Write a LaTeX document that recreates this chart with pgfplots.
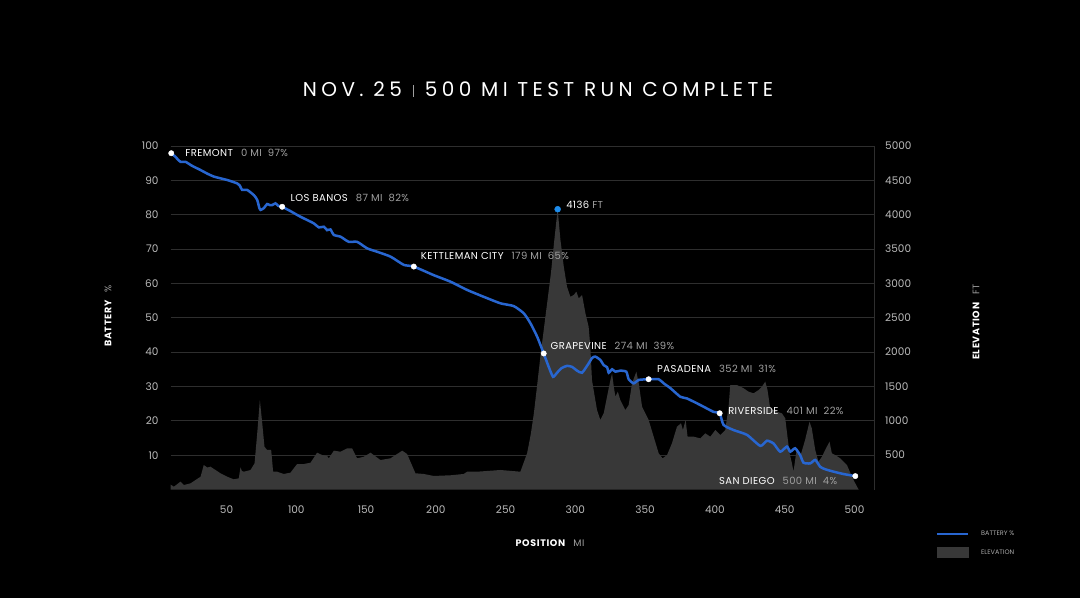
\documentclass[border=0pt]{standalone}
\usepackage{pgfplots}
\pgfplotsset{compat=1.18}
\usepackage{fontspec}
\setmainfont{Poppins}
\newfontfamily\titlefont[LetterSpace=22]{Poppins}
\newfontfamily\lblfont[LetterSpace=4]{Poppins}
\newfontfamily\axfont[LetterSpace=7]{Poppins}
\definecolor{gridc}{RGB}{46,46,46}
\definecolor{tickc}{RGB}{185,185,185}
\definecolor{elevc}{RGB}{56,56,56}
\definecolor{battc}{RGB}{40,102,208}
\definecolor{peakc}{RGB}{30,140,235}
\definecolor{subc}{RGB}{160,160,160}
\definecolor{legc}{RGB}{170,170,170}

\pgfplotstableread{
x y
10 70
10.4 65
12.3 41
17.0 114
19.4 65
24.2 90
31.4 186
33.7 357
36.2 320
38.5 332
45.7 236
50.5 186
55.2 148
58.8 163
60.0 323
61.0 270
62.4 259
67.2 284
70.1 381
72.0 818
73.9 1303
75.6 964
77.2 623
79.1 575
82.0 575
83.4 259
86.3 259
91.0 226
95.8 245
100.6 371
105.4 371
110.2 390
114.9 536
118.5 502
122.1 488
123.3 454
126.9 565
131.7 550
136.5 600
140.0 600
143.6 454
148.4 477
153.2 536
160.3 429
167.5 454
175.9 565
179.4 517
185.4 236
191.3 226
198.5 197
210.5 207
220.0 226
222.4 259
229.6 259
246.3 284
260.6 259
265.4 527
268.0 800
270.2 1100
272.5 1500
275.0 1950
277.5 2350
280.0 2750
282.5 3150
285.0 3650
287.3 4080
289.3 3632
291.7 3243
294.0 2952
296.4 2806
298.8 2831
300.7 2880
302.4 2783
304.8 2830
307.2 2565
309.5 2370
310.7 2079
311.9 1594
313.1 1448
315.5 1157
317.9 1012
320.3 1109
322.7 1351
325.1 1594
326.3 1691
327.5 1500
328.7 1351
330.4 1424
332.2 1303
335.8 1157
338.2 1230
340.6 1545
343.7 1715
345.4 1545
347.8 1205
352.5 1012
356.1 769
359.7 527
362.5 454
365.7 502
369.2 672
372.8 914
375.7 964
377.1 866
379.0 1012
380.4 769
384.7 769
389.5 745
393.1 818
396.7 769
400.3 866
403.9 793
407.4 866
409.8 1205
411.0 1521
415.8 1521
420.6 1473
424.1 1424
427.7 1400
431.3 1448
433.7 1497
436.1 1570
437.7 1448
439.6 1181
444.4 1133
448.0 1109
450.4 1036
452.0 769
453.5 527
455.2 381
456.3 259
457.5 429
458.7 600
461.1 477
464.6 720
467.8 987
469.4 891
471.9 575
474.2 405
476.7 477
479.0 575
482.1 696
483.8 527
486.2 502
489.8 454
494.6 357
498.2 186
501.8 41
503.0 0
}\elevtable

\pgfplotstableread{
x y
10.4 97.9
13 97.0
17.0 95.4
20.6 95.4
25 94.3
31.4 93.0
36 92.0
40.9 91.1
50.5 90.1
55 89.5
57.7 89.1
59.5 88.5
61.2 87.2
64.8 87.2
69.6 85.7
72.0 84.3
73.5 82.0
74.4 81.4
76.7 81.9
79.1 83.1
81 82.8
82.7 82.8
85.1 83.3
87 82.6
89.9 82.3
96 81.0
103.0 79.4
112.5 77.5
116.1 76.3
119.7 76.5
122.1 75.5
124.5 75.7
126.9 74.1
131.7 73.6
137.6 72.1
143.6 72.1
150.8 70.2
158.0 69.2
167.5 67.8
177.0 65.4
184.2 64.9
198.5 62.4
210.5 60.5
222.4 58.1
234.3 56.1
246.3 54.2
255.8 53.4
263.0 51.3
267.8 48.4
272.6 44.5
277.3 39.6
280.9 35.7
284.0 32.8
286.9 34.0
290 35.3
294.0 36.0
297.6 35.7
301.2 34.6
304.8 34.0
309.5 36.7
312 38.3
314.3 38.7
317.9 37.7
320.3 36.2
322.7 35.6
323.9 34.0
326.3 35.0
328.7 34.3
332.2 34.6
336.5 34.3
338.2 32.1
341.8 30.9
345.4 31.9
352.5 32.1
359.7 32.1
363.3 30.9
368.1 29.5
375.2 27.0
380.0 26.5
389.5 24.6
399.0 22.6
403.4 22.2
406.2 18.8
413.4 17.3
423.0 15.9
432.5 12.7
437.3 14.2
442.0 13.4
446.8 11.0
451.6 12.5
454.0 11.0
457.5 12.0
461.1 10.0
463.5 7.8
468.3 7.6
471.9 8.6
475.5 6.6
479.0 5.9
485.0 5.2
492.2 4.5
500.6 3.9
}\batttable

\begin{document}
\begin{tikzpicture}[x=1pt,y=1pt]
\useasboundingbox (0,0) rectangle (1080,598);
\fill[black] (0,0) rectangle (1080,598);

% title
\node[text=white] at (538,509) {\titlefont\fontsize{20}{24}\selectfont NOV. 25\kern11pt\textcolor{subc}{\rule[-0.5pt]{1.1pt}{12pt}}\kern11pt 500 MI TEST RUN COMPLETE};

% elevation axis (right)
\begin{axis}[
  at={(170.7pt,108.5pt)}, anchor=south west,
  scale only axis, width=703.3pt, height=343.5pt,
  xmin=10, xmax=514, ymin=0, ymax=5000,
  axis x line*=bottom, axis y line*=right,
  x axis line style={draw=none},
  y axis line style={draw=gridc, line width=0.9pt, -},
  xtick={50,100,...,500},
  ytick={500,1000,...,5000},
  ymajorgrids, grid style={draw=gridc, line width=0.9pt},
  major tick length=0pt,
  tick label style={font=\fontsize{10.5}{12}\selectfont, text=tickc},
  /pgf/number format/assume math mode=true,
  /pgf/number format/1000 sep={},
  scaled y ticks=false,
  xticklabel style={anchor=base, yshift=-24pt, inner sep=0pt},
  yticklabel style={anchor=west, inner sep=0pt, xshift=11pt},
]
\addplot[fill=elevc, draw=none] table[x=x,y=y] {\elevtable} \closedcycle;
\addplot[only marks, mark=*, mark size=3pt, peakc] coordinates {(287.3,4080)};
\node[anchor=west, text=white, inner sep=0pt, text depth=0pt, xshift=8.4pt, yshift=4pt] at (axis cs:287.3,4080) {\lblfont\fontsize{10}{11}\selectfont 4136 \textcolor{subc}{FT}};
\end{axis}

% battery axis (left)
\begin{axis}[
  at={(170.7pt,108.5pt)}, anchor=south west,
  scale only axis, width=703.3pt, height=343.5pt,
  xmin=10, xmax=514, ymin=0, ymax=100,
  axis x line=none, axis y line*=left,
  y axis line style={draw=none},
  ytick={10,20,...,100},
  major tick length=0pt,
  tick label style={font=\fontsize{10.5}{12}\selectfont, text=tickc},
  /pgf/number format/assume math mode=true,
  yticklabel style={anchor=east, inner sep=0pt, xshift=-12pt},
  clip=false,
  legend style={at={(1.0875,-0.115)}, anchor=north west, draw=none, fill=none,
    font=\fontsize{6.5}{7}\selectfont, text=legc, inner sep=0pt, row sep=8pt,
    /tikz/every odd column/.append style={column sep=10pt}},
  legend cell align=left,
]
\addplot[battc, line width=2.5pt, smooth, tension=0.35,
  legend image code/.code={\draw[battc, line width=2.4pt] (0pt,0pt) -- (31pt,0pt);}]
  table[x=x,y=y] {\batttable};
\addlegendentry{BATTERY \%}
\addlegendimage{legend image code/.code={\fill[elevc] (0pt,-5pt) rectangle (31pt,5pt);}}
\addlegendentry{ELEVATION}

\addplot[only marks, mark=*, mark size=2.7pt, white, forget plot] coordinates {
(10.4,97.9) (89.9,82.3) (184.2,64.9) (277.3,39.6) (352.5,32.1) (403.4,22.2) (500.6,3.9)};

\tikzset{lbl/.style={anchor=west, text=white, inner sep=0pt, text depth=0pt, font=\lblfont\fontsize{10}{11}\selectfont}}
\node[lbl, xshift=14pt] at (axis cs:10.4,97.9) {FREMONT\hspace{8pt}\textcolor{subc}{0 MI\hspace{6pt}97\%}};
\node[lbl, xshift=8.3pt, yshift=9pt] at (axis cs:89.9,82.3) {LOS BANOS\hspace{8pt}\textcolor{subc}{87 MI\hspace{6pt}82\%}};
\node[lbl, xshift=7pt, yshift=10.7pt] at (axis cs:184.2,64.9) {KETTLEMAN CITY\hspace{8pt}\textcolor{subc}{179 MI\hspace{6pt}65\%}};
\node[lbl, xshift=6.7pt, yshift=7.3pt] at (axis cs:277.3,39.6) {GRAPEVINE\hspace{8pt}\textcolor{subc}{274 MI\hspace{6pt}39\%}};
\node[lbl, xshift=8.4pt, yshift=10.8pt] at (axis cs:352.5,32.1) {PASADENA\hspace{8pt}\textcolor{subc}{352 MI\hspace{6pt}31\%}};
\node[lbl, xshift=8.4pt, yshift=2.3pt] at (axis cs:403.4,22.2) {RIVERSIDE\hspace{8pt}\textcolor{subc}{401 MI\hspace{6pt}22\%}};
\node[lbl, anchor=east, xshift=-18pt, yshift=-5pt] at (axis cs:500.6,3.9) {SAN DIEGO\hspace{8pt}\textcolor{subc}{500 MI\hspace{6pt}4\%}};
\end{axis}

% axis titles
\node[rotate=90, text=white] at (108,282) {\axfont\fontsize{9.5}{11}\selectfont\bfseries BATTERY\hspace{8pt}\mdseries\textcolor{subc}{\%}};
\node[rotate=90, text=white] at (976,276) {\axfont\fontsize{9.5}{11}\selectfont\bfseries ELEVATION\hspace{8pt}\mdseries\textcolor{subc}{FT}};
\node[text=white] at (550,55) {\axfont\fontsize{9.5}{11}\selectfont\bfseries POSITION\hspace{8pt}\mdseries\textcolor{subc}{MI}};
\end{tikzpicture}
\end{document}
